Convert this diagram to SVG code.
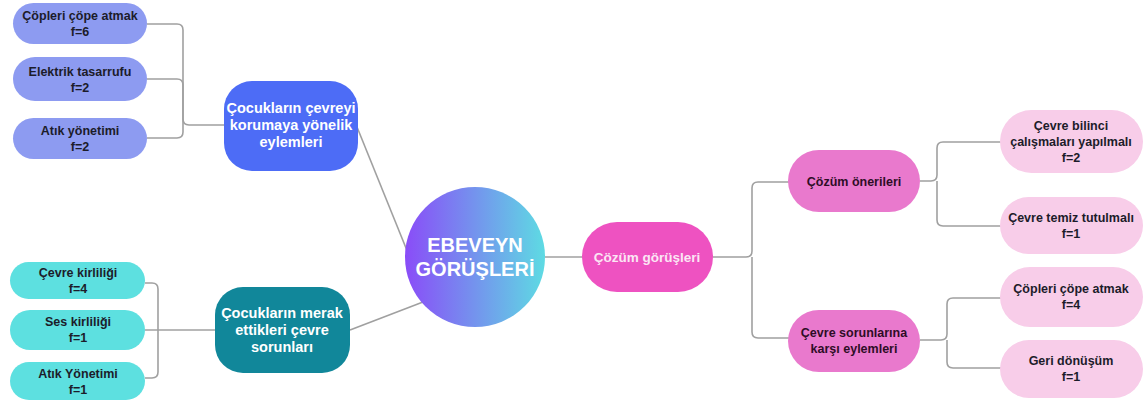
<svg xmlns="http://www.w3.org/2000/svg" width="1146" height="401" viewBox="0 0 1146 401">
<defs>
<linearGradient id="cg" x1="0" y1="0" x2="1" y2="0">
<stop offset="0" stop-color="#8a4cf8"/>
<stop offset="1" stop-color="#5edbe3"/>
</linearGradient>
<style>
text{font-family:"Liberation Sans",Arial,sans-serif;font-weight:bold;text-anchor:middle}
.lk{fill:none;stroke:#a0a0a0;stroke-width:1.6}
.peri{fill:#8d9bf1}
.cyan{fill:#5de0e0}
.lpink{fill:#f8cde9}
.dark{fill:#1c1c2a;font-size:12.5px}
.wh{fill:#ffffff;font-size:14.5px}
.dp{fill:#2e0d26;font-size:12.5px}
</style>
</defs>
<rect width="1146" height="401" fill="#ffffff"/>
<g id="connectors">
<path class="lk" d="M147,24 H177 Q183,24 183,30 V119 Q183,125 189,125 H224"/>
<path class="lk" d="M147,79 H177 Q183,79 183,85 V125"/>
<path class="lk" d="M147,138 H177 Q183,138 183,132 V125"/>
<path class="lk" d="M357,127 L408,253"/>
<path class="lk" d="M350,330 L423,302"/>
<path class="lk" d="M145,283 H152 Q158,283 158,289 V372 Q158,378 152,378 H145"/>
<path class="lk" d="M145,330 H216"/>
<path class="lk" d="M545,257 H583"/>
<path class="lk" d="M713,257 H746 Q752,257 752,251 V188 Q752,182 758,182 H790"/>
<path class="lk" d="M752,257 V332 Q752,338 758,338 H790"/>
<path class="lk" d="M920,181 H931 Q937,181 937,175 V148 Q937,142 943,142 H1001"/>
<path class="lk" d="M937,181 V220 Q937,226 943,226 H1001"/>
<path class="lk" d="M920,340 H941 Q947,340 947,334 V304 Q947,298 953,298 H1001"/>
<path class="lk" d="M947,340 V362 Q947,368 953,368 H1001"/>
</g>
<g id="n-l1"><rect class="peri" x="13" y="3" width="134" height="41" rx="20.5"/><text class="dark" x="80" y="20">Çöpleri çöpe atmak</text><text class="dark" x="80" y="36">f=6</text></g>
<g id="n-l2"><rect class="peri" x="13" y="57" width="134" height="44" rx="22"/><text class="dark" x="80" y="76">Elektrik tasarrufu</text><text class="dark" x="80" y="92">f=2</text></g>
<g id="n-l3"><rect class="peri" x="13" y="118" width="134" height="41" rx="20.5"/><text class="dark" x="80" y="135">Atık yönetimi</text><text class="dark" x="80" y="151">f=2</text></g>
<g id="n-blue"><rect x="224" y="81" width="134" height="90" rx="28" fill="#4d6cf6"/><text class="wh" x="291" y="113">Çocukların çevreyi</text><text class="wh" x="291" y="130">korumaya yönelik</text><text class="wh" x="291" y="147">eylemleri</text></g>
<g id="n-center"><circle cx="475" cy="257" r="70" fill="url(#cg)"/><text x="475" y="252" fill="#ffffff" font-size="20">EBEVEYN</text><text x="475" y="276" fill="#ffffff" font-size="20">GÖRÜŞLERİ</text></g>
<g id="n-teal"><rect x="215" y="287" width="135" height="86" rx="28" fill="#11879a"/><text class="wh" x="282" y="318">Çocukların merak</text><text class="wh" x="282" y="335">ettikleri çevre</text><text class="wh" x="282" y="352">sorunları</text></g>
<g id="n-b1"><rect class="cyan" x="10" y="262" width="135" height="37" rx="18.5"/><text class="dark" x="78" y="277">Çevre kirliliği</text><text class="dark" x="78" y="293">f=4</text></g>
<g id="n-b2"><rect class="cyan" x="10" y="310" width="135" height="40" rx="20"/><text class="dark" x="78" y="326">Ses kirliliği</text><text class="dark" x="78" y="342">f=1</text></g>
<g id="n-b3"><rect class="cyan" x="10" y="362" width="135" height="38" rx="19"/><text class="dark" x="78" y="378">Atık Yönetimi</text><text class="dark" x="78" y="394">f=1</text></g>
<g id="n-cg"><rect x="582" y="222" width="131" height="70" rx="35" fill="#ee52c1"/><text x="647" y="262" fill="#fbe6f4" font-size="13.5px">Çözüm görüşleri</text></g>
<g id="n-co"><rect x="788" y="150" width="132" height="62" rx="31" fill="#e979cd"/><text class="dp" x="854" y="186">Çözüm önerileri</text></g>
<g id="n-cs"><rect x="788" y="310" width="132" height="62" rx="31" fill="#e979cd"/><text class="dp" x="854" y="337">Çevre sorunlarına</text><text class="dp" x="854" y="353">karşı eylemleri</text></g>
<g id="n-r1"><rect class="lpink" x="1000" y="110" width="143" height="63" rx="31.5"/><text class="dark" x="1071" y="130">Çevre bilinci</text><text class="dark" x="1071" y="146">çalışmaları yapılmalı</text><text class="dark" x="1071" y="162">f=2</text></g>
<g id="n-r2"><rect class="lpink" x="1000" y="197" width="143" height="57" rx="28.5"/><text class="dark" x="1071" y="222">Çevre temiz tutulmalı</text><text class="dark" x="1071" y="238">f=1</text></g>
<g id="n-r3"><rect class="lpink" x="1000" y="267" width="143" height="60" rx="30"/><text class="dark" x="1071" y="293">Çöpleri çöpe atmak</text><text class="dark" x="1071" y="309">f=4</text></g>
<g id="n-r4"><rect class="lpink" x="1000" y="340" width="143" height="58" rx="29"/><text class="dark" x="1071" y="365">Geri dönüşüm</text><text class="dark" x="1071" y="381">f=1</text></g>
</svg>
